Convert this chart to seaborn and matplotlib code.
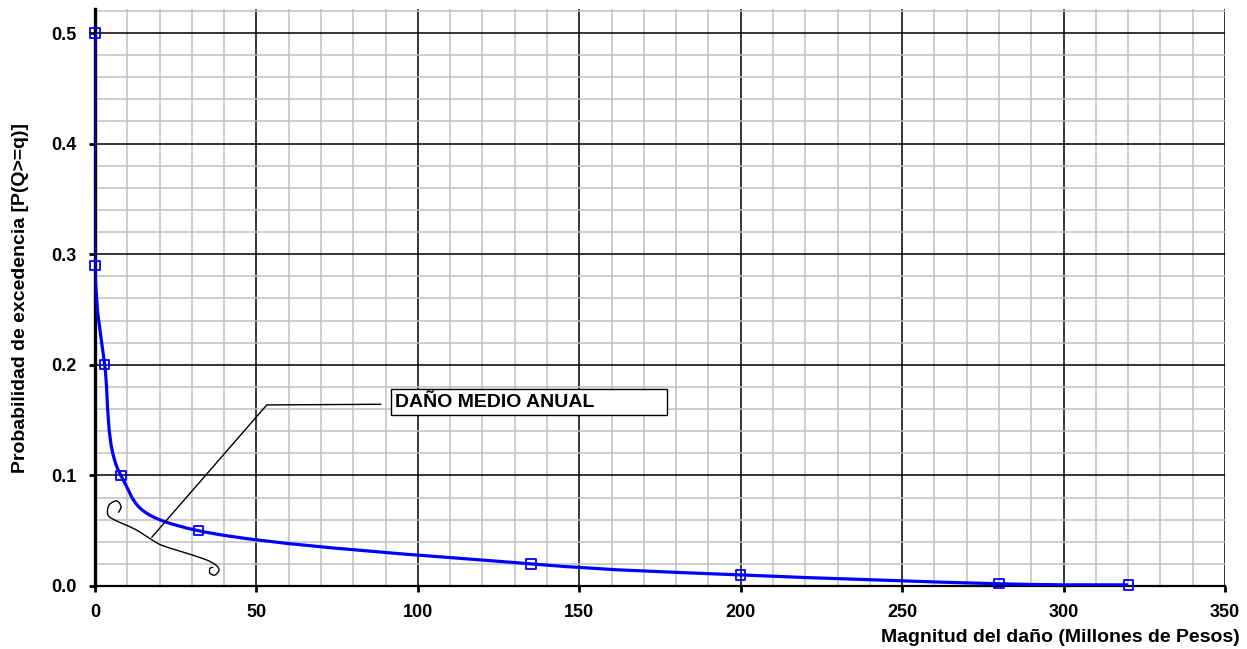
import numpy as np
import pandas as pd
import seaborn as sns
import matplotlib.pyplot as plt
from matplotlib.path import Path
from matplotlib.patches import PathPatch, Rectangle
from matplotlib.ticker import MultipleLocator

# datos
damage = [0, 0, 3, 8, 32, 135, 200, 280, 320]          # millones de pesos
prob = [0.5, 0.29, 0.2, 0.1, 0.05, 0.02, 0.01, 0.002, 0.001]
x_ticks = [0, 50, 100, 150, 200, 250, 300, 350]
y_ticks = [0.0, 0.1, 0.2, 0.3, 0.4, 0.5]
note_text = "DAÑO MEDIO ANUAL"

curve_df = pd.DataFrame({"damage": damage, "prob": prob})

sns.set_theme(style="white")
plt.rcParams["font.family"] = ["Liberation Sans", "DejaVu Sans"]
plt.rcParams["font.weight"] = "bold"
plt.rcParams["text.color"] = "black"
plt.rcParams["axes.labelcolor"] = "black"
plt.rcParams["xtick.color"] = "black"
plt.rcParams["ytick.color"] = "black"


def smooth_path(xs, ys):
    # curva suavizada tipo Excel (bezier con tangentes de Catmull-Rom)
    pts = np.column_stack([xs, ys]).astype(float)
    n = len(pts)
    verts = [pts[0]]
    codes = [Path.MOVETO]
    for i in range(n - 1):
        p0 = pts[max(i - 1, 0)]
        p1 = pts[i]
        p2 = pts[i + 1]
        p3 = pts[min(i + 2, n - 1)]
        verts += [p1 + (p2 - p0) / 6, p2 - (p3 - p1) / 6, p2]
        codes += [Path.CURVE4] * 3
    return Path(verts, codes)


fig = plt.figure(figsize=(12.47, 6.49), dpi=100)
ax = fig.add_axes([0.0762, 0.0971, 0.9062, 0.8890])

ax.set_xlim(0, 350)
ax.set_ylim(0, 0.5217)

# rejilla: menor gris, mayor negra
ax.xaxis.set_major_locator(MultipleLocator(50))
ax.xaxis.set_minor_locator(MultipleLocator(10))
ax.yaxis.set_major_locator(MultipleLocator(0.1))
ax.yaxis.set_minor_locator(MultipleLocator(0.02))
ax.grid(which="minor", color="#c0c0c0", linewidth=1.1, zorder=0)
ax.grid(which="major", color="black", linewidth=1.1, zorder=0.5)
ax.set_axisbelow(True)

# curva suave + marcadores
ax.add_patch(PathPatch(smooth_path(damage, prob), facecolor="none",
                       edgecolor="#0000ff", linewidth=2.3, zorder=3))
sns.scatterplot(data=curve_df, x="damage", y="prob", marker="s", s=45,
                facecolor="none", edgecolor="#0000ff", linewidth=1.3,
                zorder=4, clip_on=False, ax=ax)

# llave (anotacion)
brace_a = [(7.22, 0.0663), (8.05, 0.0717), (6.72, 0.0769), (4.34, 0.0732),
           (3.93, 0.0651), (5.67, 0.0603), (12.39, 0.0513), (17.34, 0.0422)]
brace_b = [(17.34, 0.0422), (20.66, 0.0368), (26.85, 0.0310), (34.07, 0.0241),
           (37.38, 0.0190), (38.40, 0.0145), (37.16, 0.0099), (35.61, 0.0115),
           (35.61, 0.0160), (36.64, 0.0169)]
for part in (brace_a, brace_b):
    bx, by = zip(*part)
    ax.add_patch(PathPatch(smooth_path(bx, by), facecolor="none",
                           edgecolor="black", linewidth=1.0, zorder=5))

ax.plot([17.56, 53.2, 88.5], [0.044, 0.1637, 0.1643], color="black",
        linewidth=1.0, zorder=5)
ax.add_patch(Rectangle((91.7, 0.155), 85.4, 0.023, facecolor="white",
                       edgecolor="black", linewidth=1.0, zorder=5))
ax.text(93.0, 0.1662, note_text, fontsize=14, fontweight="bold",
        color="black", va="center", ha="left", zorder=6)

ax.set_xticks(x_ticks)
ax.set_yticks(y_ticks)
ax.set_xticklabels([str(v) for v in x_ticks])
ax.set_yticklabels([f"{v:.1f}" for v in y_ticks])
ax.tick_params(which="major", direction="out", length=4, width=2,
               color="black", labelcolor="black", labelsize=13, pad=9,
               bottom=True, left=True)
ax.tick_params(which="minor", length=0)
for lab in ax.get_xticklabels() + ax.get_yticklabels():
    lab.set_fontweight("bold")

for side in ("top", "right"):
    ax.spines[side].set_visible(False)
ax.spines["left"].set_linewidth(2.4)
ax.spines["left"].set_color("black")
ax.spines["bottom"].set_linewidth(1.6)
ax.spines["bottom"].set_color("black")

ax.set_xlabel("Magnitud del daño (Millones de Pesos)", fontsize=14,
              fontweight="bold", color="black", ha="right")
ax.xaxis.set_label_coords(1.013, -0.074)
ax.set_ylabel("Probabilidad de excedencia [P(Q>=q)]", fontsize=14,
              fontweight="bold", color="black")
ax.yaxis.set_label_coords(-0.058, 0.5)

fig.savefig("out.png", dpi=100)
